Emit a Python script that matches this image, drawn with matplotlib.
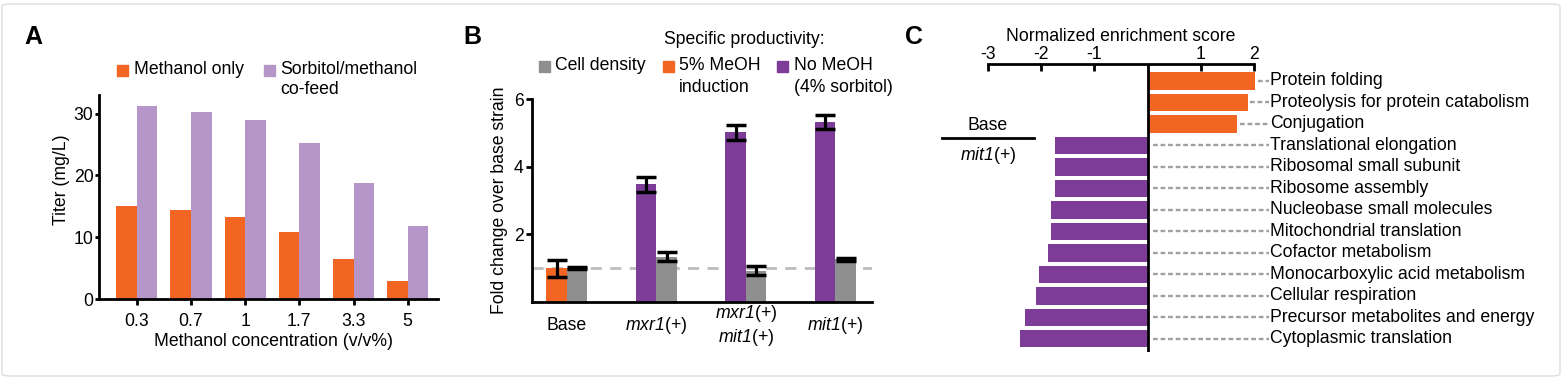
import numpy as np
import matplotlib
matplotlib.use('Agg')
import matplotlib.pyplot as plt
from matplotlib.patches import FancyBboxPatch, Rectangle
from matplotlib.lines import Line2D

plt.rcParams['font.family'] = ['Liberation Sans', 'DejaVu Sans']
plt.rcParams['mathtext.fontset'] = 'custom'
plt.rcParams['mathtext.rm'] = 'Liberation Sans:italic'
plt.rcParams['mathtext.it'] = 'Liberation Sans:italic'
plt.rcParams['axes.unicode_minus'] = False

# ---- data ----
# Panel A: titer vs methanol concentration
conc_labels = ['0.3', '0.7', '1', '1.7', '3.3', '5']
titer_methanol = [15.1, 14.4, 13.3, 10.8, 6.5, 2.9]
titer_cofeed = [31.3, 30.3, 29.0, 25.3, 18.7, 11.8]

# Panel B: fold change over base strain
strains = ['Base', r'$\mathrm{mxr1}$(+)',
           r'$\mathrm{mxr1}$(+)' + '\n' + r'$\mathrm{mit1}$(+)',
           r'$\mathrm{mit1}$(+)']
productivity = [1.0, 3.48, 5.01, 5.33]
productivity_err = [0.25, 0.22, 0.22, 0.21]
cell_density = [1.0, 1.34, 0.93, 1.26]
cell_density_err = [0.03, 0.14, 0.14, 0.04]

# Panel C: normalized enrichment scores
terms = ['Protein folding', 'Proteolysis for protein catabolism', 'Conjugation',
         'Translational elongation', 'Ribosomal small subunit', 'Ribosome assembly',
         'Nucleobase small molecules', 'Mitochondrial translation',
         'Cofactor metabolism', 'Monocarboxylic acid metabolism',
         'Cellular respiration', 'Precursor metabolites and energy',
         'Cytoplasmic translation']
nes = [2.02, 1.88, 1.68, -1.74, -1.74, -1.74, -1.81, -1.81, -1.88, -2.04,
       -2.10, -2.31, -2.39]

ORANGE = '#F26522'
LIGHT_PURPLE = '#B696C8'
PURPLE = '#7D3C98'
GRAY = '#8F8F8F'
FS = 12.7

W, H = 1562, 380
fig = plt.figure(figsize=(W / 100, H / 100), dpi=100)


def axes_px(x0, y0, x1, y1):
    return fig.add_axes([x0 / W, 1 - y1 / H, (x1 - x0) / W, (y1 - y0) / H])


def fx(x):
    return x / W


def fy(y):
    return 1 - y / H


def square(x, y, color, s=11):
    fig.patches.append(Rectangle((fx(x), fy(y + s / 2)), s / W, s / H,
                                 transform=fig.transFigure, color=color))


# card frame
fig.patches.append(FancyBboxPatch((fx(2), fy(376)), fx(1558), 372 / H,
                                  boxstyle='round,pad=0,rounding_size=0.006',
                                  transform=fig.transFigure, facecolor='white',
                                  edgecolor='#DDDDDD', linewidth=1, zorder=-10))

# ---------------- Panel A ----------------
axA = axes_px(99, 95, 438, 299)
xa = np.arange(len(conc_labels))
wa = 0.38
axA.bar(xa - wa / 2, titer_methanol, wa, color=ORANGE)
axA.bar(xa + wa / 2, titer_cofeed, wa, color=LIGHT_PURPLE)
axA.set_xlim(-0.7, 5.56)
axA.set_ylim(0, 33)
axA.set_yticks([0, 10, 20, 30])
axA.set_xticks(xa)
axA.set_xticklabels(conc_labels)
for s in ['top', 'right']:
    axA.spines[s].set_visible(False)
for s in ['left', 'bottom']:
    axA.spines[s].set_linewidth(2)
axA.tick_params(axis='y', length=3, width=2, pad=1, labelsize=FS)
axA.tick_params(axis='x', length=4, width=2, pad=6, labelsize=FS)
fig.text(fx(62), fy(180), 'Titer (mg/L)', rotation=90, ha='center', va='center', fontsize=FS)
fig.text(fx(273), fy(342), 'Methanol concentration (v/v%)', ha='center', va='center', fontsize=FS)
fig.text(fx(24), fy(37), 'A', fontsize=18, fontweight='bold', ha='left', va='center')
square(117, 70, ORANGE)
fig.text(fx(134), fy(70), 'Methanol only', fontsize=FS, va='center')
square(264, 70, LIGHT_PURPLE)
fig.text(fx(280), fy(69), 'Sorbitol/methanol', fontsize=FS, va='center')
fig.text(fx(280), fy(90), 'co-feed', fontsize=FS, va='center')

# ---------------- Panel B ----------------
axB = axes_px(532, 99, 872, 302)
xb = np.arange(len(strains))
wb = 0.23
prod_colors = [ORANGE] + [PURPLE] * (len(strains) - 1)
axB.axhline(1.0, color='#BDBDBD', linestyle=(0, (4, 3)), linewidth=2, zorder=0)
axB.bar(xb - wb / 2, productivity, wb, color=prod_colors, zorder=2)
axB.bar(xb + wb / 2, cell_density, wb, color=GRAY, zorder=2)
axB.errorbar(xb - wb / 2, productivity, yerr=productivity_err, fmt='none',
             ecolor='black', elinewidth=2.3, capsize=7, capthick=2.5, zorder=3)
axB.errorbar(xb + wb / 2, cell_density, yerr=cell_density_err, fmt='none',
             ecolor='black', elinewidth=2.3, capsize=7, capthick=2.5, zorder=3)
axB.set_xlim(-0.39, 3.41)
axB.set_ylim(0, 6)
axB.set_yticks([2, 4, 6])
axB.set_xticks(xb)
axB.set_xticklabels(strains)
for lbl in axB.get_xticklabels():
    lbl.set_verticalalignment('center')
for s in ['top', 'right']:
    axB.spines[s].set_visible(False)
for s in ['left', 'bottom']:
    axB.spines[s].set_linewidth(2)
axB.tick_params(axis='y', length=4, width=2, pad=2, labelsize=FS)
axB.tick_params(axis='x', length=0, pad=17, labelsize=FS)
fig.text(fx(500), fy(200), 'Fold change over base strain', rotation=90,
         ha='center', va='center', fontsize=FS)
fig.text(fx(463), fy(37), 'B', fontsize=18, fontweight='bold', ha='left', va='center')
fig.text(fx(744), fy(39), 'Specific productivity:', fontsize=FS, ha='center', va='center')
square(539, 66, GRAY)
fig.text(fx(555), fy(66), 'Cell density', fontsize=FS, va='center')
square(663, 66, ORANGE)
fig.text(fx(679), fy(66), '5% MeOH', fontsize=FS, va='center')
fig.text(fx(679), fy(87), 'induction', fontsize=FS, va='center')
square(777, 66, PURPLE)
fig.text(fx(794), fy(66), 'No MeOH', fontsize=FS, va='center')
fig.text(fx(794), fy(87), '(4% sorbitol)', fontsize=FS, va='center')

# ---------------- Panel C ----------------
axC = axes_px(988, 64, 1254, 352)
yc = np.arange(len(terms))
nes_colors = [ORANGE if v > 0 else PURPLE for v in nes]
axC.barh(yc, nes, height=0.8, color=nes_colors, clip_on=False, zorder=2)
axC.axvline(0, color='black', linewidth=2, zorder=3)
label_x = 2.31
for y, v, t in zip(yc, nes, terms):
    start = v + 0.05 if v > 0 else 0.1
    axC.plot([start, label_x - 0.03], [y, y], color='#A0A0A0', linewidth=1.7,
             linestyle=(0, (2, 1.2)), clip_on=False)
    axC.text(label_x, y, t, fontsize=FS, ha='left', va='center')
axC.set_xlim(-3, 2)
axC.set_ylim(len(terms) - 1 + 0.61, -0.79)
axC.set_yticks([])
axC.xaxis.set_ticks_position('top')
axC.xaxis.set_label_position('top')
axC.set_xticks([-3, -2, -1, 1, 2])
axC.set_xticklabels(['-3', '-2', '-1', '1', '2'])
axC.tick_params(axis='x', direction='in', length=5, width=2, pad=1, labelsize=FS)
axC.set_xlabel('Normalized enrichment score', fontsize=FS, labelpad=3)
for s in ['left', 'right', 'bottom']:
    axC.spines[s].set_visible(False)
axC.spines['top'].set_linewidth(2)
fig.text(fx(905), fy(37), 'C', fontsize=18, fontweight='bold', ha='left', va='center')
fig.text(fx(988), fy(126), 'Base', fontsize=FS, ha='center', va='center')
fig.add_artist(Line2D([fx(942), fx(1034)], [fy(138), fy(138)], color='black', linewidth=2))
fig.text(fx(988), fy(155), r'$\mathrm{mit1}$(+)', fontsize=FS, ha='center', va='center')

fig.savefig('out.png', dpi=100)
